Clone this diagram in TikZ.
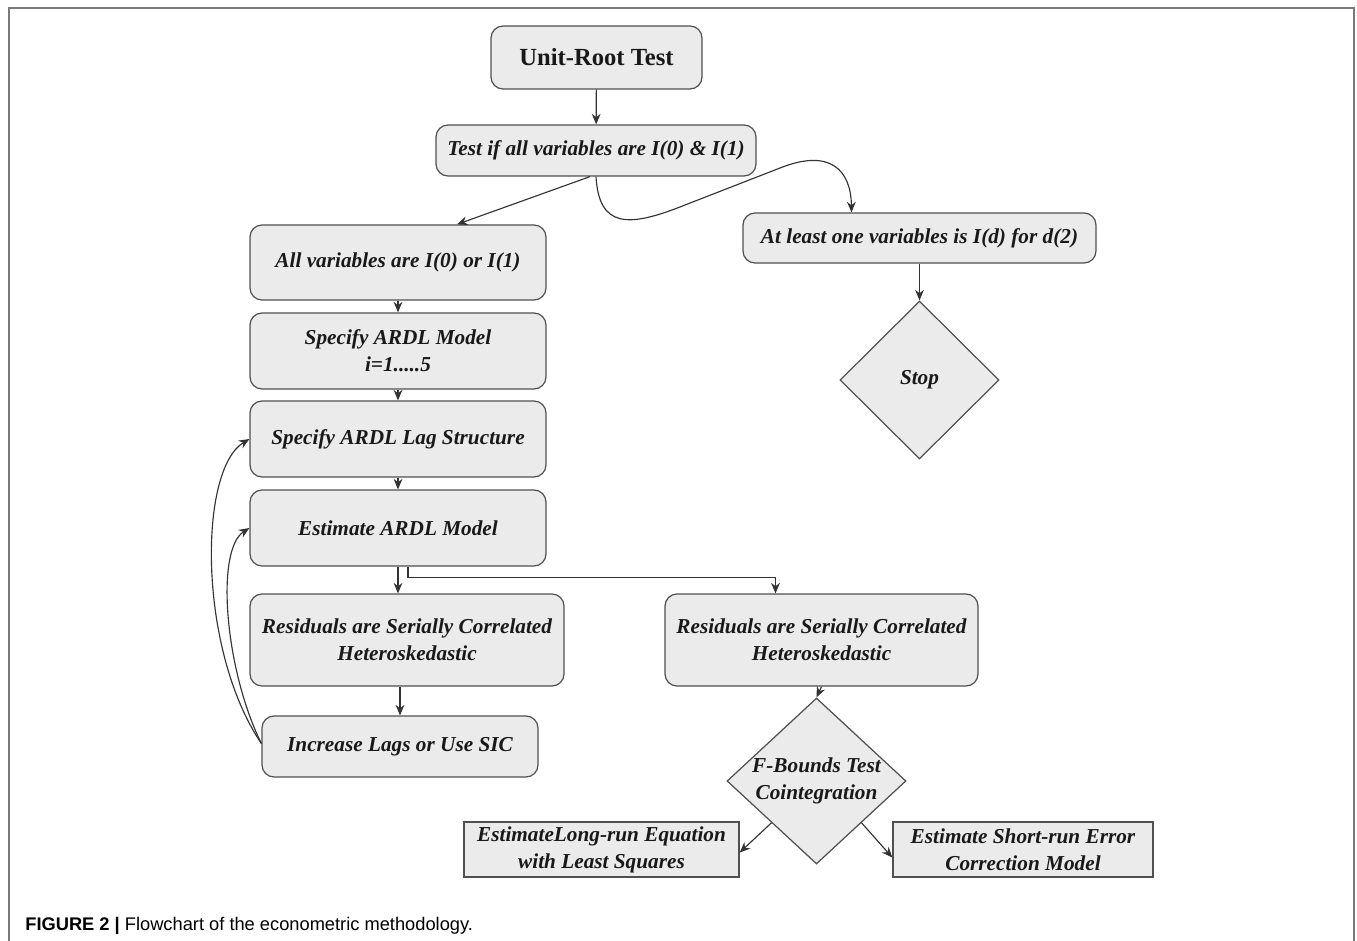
\documentclass[tikz,border=0pt]{standalone}
\usepackage{fontspec}
\setmainfont{Liberation Serif}
\newfontfamily\capfont{Liberation Sans}
\usetikzlibrary{shapes.geometric,arrows.meta,calc}

\definecolor{boxfill}{HTML}{EBEBEB}
\definecolor{boxline}{HTML}{505050}
\definecolor{linkcol}{HTML}{333333}
\definecolor{framecol}{HTML}{7A7A7A}
\newcommand{\flowfont}{\fontsize{12.1}{15.4}\selectfont\bfseries\itshape}

\begin{document}
\begin{tikzpicture}[x=0.2mm, y=-0.2mm,
  rbox/.style={draw=boxline, fill=boxfill, line width=0.7pt, rounded corners=2.4mm,
    inner sep=0pt, align=center, font=\flowfont, text=black!90},
  sbox/.style={draw=boxline, fill=boxfill, line width=0.8pt,
    inner sep=0pt, align=center, font=\flowfont, text=black!90},
  choice/.style={diamond, draw=boxline, fill=boxfill, line width=0.7pt,
    inner sep=0pt, align=center, font=\flowfont, text=black!90},
  link/.style={draw=linkcol, line width=0.65pt, -{Stealth[length=6pt,width=5pt]}}]
  \useasboundingbox (0,0) rectangle (1357,941);

  % Frame
  \draw[framecol, line width=0.3mm] (9,941) -- (9,8) -- (1354,8) -- (1354,941);

  % Main column
  \node[rbox, minimum width=42.2mm, minimum height=12.6mm, font=\fontsize{14}{16}\selectfont\bfseries]
    (unit) at (596.5,57.5) {Unit-Root Test};
  \node[rbox, minimum width=64mm, minimum height=10.2mm] (test) at (596,150.5)
    {Test if all variables are I(0) \& I(1)};
  \node[rbox, minimum width=59.2mm, minimum height=15mm] (allvar) at (398,262.5)
    {All variables are I(0) or I(1)};
  \node[rbox, minimum width=59.2mm, minimum height=15.2mm] (spec) at (398,351)
    {Specify ARDL Model\\ i=1.....5};
  \node[rbox, minimum width=59.2mm, minimum height=15.2mm] (lag) at (398,439)
    {Specify ARDL Lag Structure};
  \node[rbox, minimum width=59.2mm, minimum height=15.2mm] (est) at (398,528)
    {Estimate ARDL Model};
  \node[rbox, minimum width=62.8mm, minimum height=18.4mm] (resL) at (407,640)
    {Residuals are Serially Correlated\\ Heteroskedastic};
  \node[rbox, minimum width=55.2mm, minimum height=12.2mm] (inc) at (400,746.5)
    {Increase Lags or Use SIC};

  % Right branch
  \node[rbox, minimum width=70.6mm, minimum height=10mm] (atleast) at (919.5,238)
    {At least one variables is I(d) for d(2)};
  \node[choice, minimum width=31.8mm, minimum height=31.6mm] (stop) at (919.5,380) {Stop};
  \node[rbox, minimum width=62.6mm, minimum height=18.4mm] (resR) at (821.5,640)
    {Residuals are Serially Correlated\\ Heteroskedastic};
  \node[choice, minimum width=35.8mm, minimum height=33.2mm, aspect=1.08] (fb) at (816.5,781)
    {F-Bounds Test\\ Cointegration};
  \node[sbox, minimum width=55mm, minimum height=11mm] (lrun) at (601.5,849.5)
    {EstimateLong-run Equation\\ with Least Squares};
  \node[sbox, minimum width=52mm, minimum height=11mm] (srun) at (1023,849.5)
    {Estimate Short-run Error\\ Correction Model};

  % Arrows
  \draw[link] (unit) -- (test);
  \draw[link] ($(test.south)+(-6,0)$) -- ($(allvar.north)+(59,0)$);
  \draw[link] (test.south) .. controls (599,228) and (628,228) .. (685,205)
    -- (780,168) .. controls (830,148) and (851,170) .. ($(atleast.north)+(-68,0)$);
  \draw[link] (allvar) -- (spec);
  \draw[link] (spec) -- (lag);
  \draw[link] (lag) -- (est);
  \draw[link] (est.south) -- (est.south |- resL.north);
  \draw[link] ($(est.south)+(10,0)$) -- ++(0,11) -| ($(resR.north)+(-46,0)$);
  \draw[link] ($(resL.south)+(-7,0)$) -- ($(inc.north)$);
  \draw[link] ($(inc.west)+(0,-3)$) .. controls (198,650) and (198,470) .. (lag.west);
  \draw[link] ($(inc.west)+(0,-3)$) .. controls (225,670) and (215,550) .. (est.west);
  \draw[link] (atleast) -- (stop);
  \draw[link] (resR.south) -- (fb.north);
  \draw[link] (fb.south west) -- ($(lrun.east)+(0,3)$);
  \draw[link] (fb.south east) -- ($(srun.west)+(0,8)$);

  % Caption
  \node[anchor=west, inner sep=0pt, font=\capfont\fontsize{10.4}{12}\selectfont] (cap) at (25,926)
    {\textbf{FIGURE 2 |} Flowchart of the econometric methodology.};
\end{tikzpicture}
\end{document}
